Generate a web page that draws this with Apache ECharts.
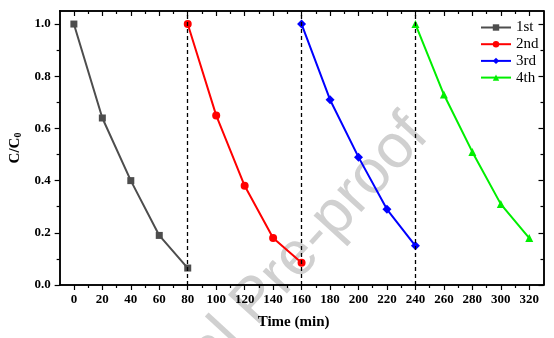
<!DOCTYPE html>
<html><head><meta charset="utf-8">
<script src="https://cdn.jsdelivr.net/npm/echarts@6/dist/echarts.min.js"></script>
<style>html,body{margin:0;padding:0;background:#fff}#c{width:554px;height:338px}</style>
</head><body><div id="c"></div>
<script>
var seriesNames = ['1st', '2nd', '3rd', '4th'];
var times1 = [0, 20, 40, 60, 80];
var vals1 = [1.0, 0.64, 0.40, 0.19, 0.065];
var times2 = [80, 100, 120, 140, 160];
var vals2 = [1.0, 0.65, 0.38, 0.18, 0.085];
var times3 = [160, 180, 200, 220, 240];
var vals3 = [1.0, 0.71, 0.49, 0.29, 0.15];
var times4 = [240, 260, 280, 300, 320];
var vals4 = [1.0, 0.73, 0.51, 0.31, 0.18];
var dividers = [80, 160, 240];
var xMajorTicks = [0, 20, 40, 60, 80, 100, 120, 140, 160, 180, 200, 220, 240, 260, 280, 300, 320];
var xMinorTicks = [10, 30, 50, 70, 90, 110, 130, 150, 170, 190, 210, 230, 250, 270, 290, 310];
var yMajorTicks = [0, 0.2, 0.4, 0.6, 0.8, 1.0];
var yMinorTicks = [0.1, 0.3, 0.5, 0.7, 0.9];

var colors = ['#4d4d4d', '#ff0000', '#0000ff', '#00ee00'];
var symbols = ['rect', 'circle', 'diamond', 'triangle'];
var symSizes = [7, 8, 9, 8];
var font = 'Liberation Serif';

function zip(a, b) { return a.map(function (v, i) { return [v, b[i]]; }); }
var allData = [zip(times1, vals1), zip(times2, vals2), zip(times3, vals3), zip(times4, vals4)];

var XMIN = -10, XMAX = 330, YMIN = 0, YMAX = 1.05;
var axLine = { show: true, onZero: false, lineStyle: { color: '#000', width: 1.5 } };

function xAx(pos, ticks, len, inside, labels, extra) {
  var o = {
    type: 'value', position: pos, min: XMIN, max: XMAX, interval: 10,
    axisLine: axLine, splitLine: { show: false },
    axisTick: { show: true, customValues: ticks, length: len, inside: inside, lineStyle: { color: '#000', width: 1.2 } },
    axisLabel: labels ? { show: true, customValues: xMajorTicks, fontFamily: font, fontWeight: 'bold', fontSize: 13, color: '#000', margin: 8 } : { show: false }
  };
  for (var k in extra) o[k] = extra[k];
  return o;
}
function yAx(pos, ticks, len, inside, labels, extra) {
  var o = {
    type: 'value', position: pos, min: YMIN, max: YMAX, interval: 0.05,
    axisLine: axLine, splitLine: { show: false },
    axisTick: { show: true, customValues: ticks, length: len, inside: inside, lineStyle: { color: '#000', width: 1.2 } },
    axisLabel: labels ? { show: true, customValues: yMajorTicks, fontFamily: font, fontWeight: 'bold', fontSize: 13, color: '#000', margin: 9, formatter: function (v) { return v.toFixed(1); } } : { show: false }
  };
  for (var k in extra) o[k] = extra[k];
  return o;
}

var series = allData.map(function (d, i) {
  var s = {
    name: seriesNames[i], type: 'line', data: d, xAxisIndex: 0, yAxisIndex: 0,
    symbol: symbols[i], symbolSize: symSizes[i], showAllSymbol: true,
    itemStyle: { color: colors[i] }, lineStyle: { color: colors[i], width: 2 }, z: 3
  };
  if (i === 0) {
    s.markLine = {
      silent: true, symbol: 'none', label: { show: false },
      lineStyle: { color: '#000', type: [4, 3], width: 1.3 },
      data: dividers.map(function (v) { return { xAxis: v }; })
    };
  }
  return s;
});

var chart = echarts.init(document.getElementById('c'), null, { renderer: 'canvas' });
chart.setOption({
  backgroundColor: '#fff',
  animation: false,
  grid: { left: 59, right: 10.5, top: 11, bottom: 53, containLabel: false },
  graphic: [{
    type: 'text', z: 0,
    x: 395, y: 104, rotation: 0.83,
    style: { text: 'Journal Pre-proof', font: '62px "Liberation Sans"', fill: '#d0d0d0', textAlign: 'right', textVerticalAlign: 'top' }
  }],
  legend: {
    orient: 'vertical', left: 480, top: 20, padding: 0, itemWidth: 30, itemHeight: 8, itemGap: 1.7,
    textStyle: { fontFamily: font, fontSize: 15, color: '#000' },
    data: seriesNames
  },
  xAxis: [
    xAx('bottom', xMajorTicks, 5, false, true, {
      name: 'Time (min)', nameLocation: 'middle', nameGap: 30,
      nameTextStyle: { fontFamily: font, fontWeight: 'bold', fontSize: 15, color: '#000', padding: [0, 16, 0, 0] }
    }),
    xAx('bottom', xMinorTicks, 3, false, false, {}),
    xAx('top', xMajorTicks, 5, true, false, {}),
    xAx('top', xMinorTicks, 3, true, false, {})
  ],
  yAxis: [
    yAx('left', yMajorTicks, 5, false, true, {
      name: '{a|C/C}{b|0}', nameLocation: 'middle', nameGap: 27, nameRotate: 90,
      nameTextStyle: {
        rich: {
          a: { fontFamily: font, fontWeight: 'bold', fontSize: 15, color: '#000' },
          b: { fontFamily: font, fontWeight: 'bold', fontSize: 10, color: '#000', verticalAlign: 'bottom', padding: [6, 0, 0, 0] }
        }
      }
    }),
    yAx('left', yMinorTicks, 3, false, false, {}),
    yAx('right', yMajorTicks, 5, true, false, {}),
    yAx('right', yMinorTicks, 3, true, false, {})
  ],
  series: series
});
</script></body></html>
